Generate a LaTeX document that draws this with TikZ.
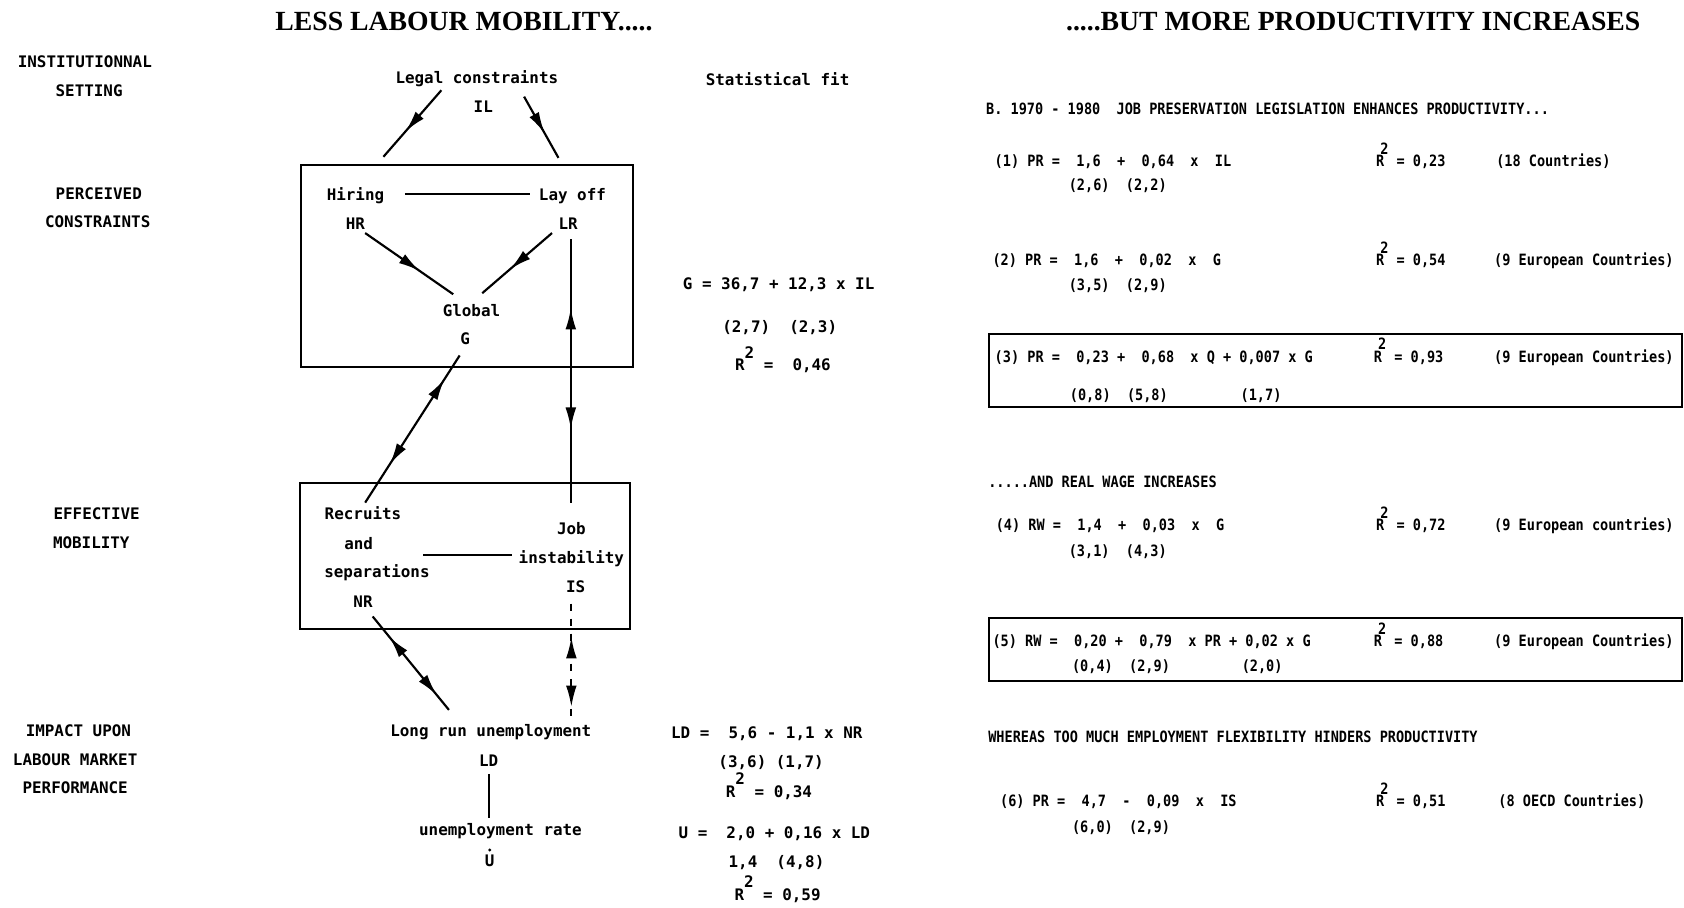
\documentclass[tikz,border=0pt]{standalone}
\usepackage{fontspec}
\setmainfont{Liberation Serif}
\newfontfamily\mono{DejaVu Sans Mono}
\newfontfamily\monoc{DejaVu Sans Mono}[FakeStretch=0.87]
\usetikzlibrary{arrows.meta,decorations.markings}
\tikzset{
  lab/.style={font=\mono\bfseries\frenchspacing\fontsize{14.8}{16}\selectfont, inner sep=0pt, text height=10.8pt, text depth=0pt},
  rp/.style={font=\monoc\bfseries\frenchspacing\fontsize{14.5}{16}\selectfont, inner sep=0pt, text height=10.6pt, text depth=0pt, anchor=west},
  ttl/.style={font=\bfseries\fontsize{25.8}{28}\selectfont, inner sep=0pt, text height=17pt, text depth=0pt},
  ln/.style={line width=2pt},
  bx/.style={line width=1.8pt},
  mytip/.tip={Latex[length=20pt,width=10pt]},
  fwdtip/.style={postaction={decorate}, decoration={markings, mark=at position #1 with {\arrow{mytip}}}},
  twotip/.style 2 args={postaction={decorate}, decoration={markings, mark=at position #1 with {\arrowreversed{mytip}}, mark=at position #2 with {\arrow{mytip}}}},
}
\newcommand{\Rsq}{R\raisebox{0.8em}{2}}
\newcommand{\Rsqr}{R\raisebox{0.8em}{\kern-0.25em2}}
\begin{document}
\begin{tikzpicture}[x=1pt,y=-1pt]
\fill[white] (0,0) rectangle (1568,845);
\useasboundingbox (0,0) rectangle (1568,845);

% titles
\node[ttl] (t1) at (432,20) {LESS LABOUR MOBILITY.....};
\node[ttl] (t2) at (1260,20) {.....BUT MORE PRODUCTIVITY INCREASES};

% left labels
\node[lab] (l1) at (79,57) {INSTITUTIONNAL};
\node[lab] (l2) at (83,84) {SETTING};
\node[lab] (l3) at (92,180) {PERCEIVED};
\node[lab] (l4) at (91,206) {CONSTRAINTS};
\node[lab] (l5) at (90,478) {EFFECTIVE};
\node[lab] (l6) at (85,505) {MOBILITY};
\node[lab] (l7) at (73,680) {IMPACT UPON};
\node[lab] (l8) at (70,707) {LABOUR MARKET};
\node[lab] (l9) at (70,733) {PERFORMANCE};

% centre diagram
\node[lab] (legal) at (444,72) {Legal constraints};
\node[lab] (il) at (450,99) {IL};
\node[lab] (sfit) at (724,74) {Statistical fit};

\draw[bx] (280,154) rectangle (589,342);
\node[lab] (hiring) at (331,181) {Hiring};
\node[lab] (layoff) at (533,181) {Lay off};
\node[lab] (hr) at (331,208) {HR};
\node[lab] (lr) at (529,208) {LR};
\node[lab] (global) at (439,289) {Global};
\node[lab] (g) at (433,315) {G};

\draw[bx] (279,450) rectangle (587,586);
\node[lab] (recruits) at (338,478) {Recruits};
\node[lab] (and) at (334,506) {and};
\node[lab] (sep) at (351,532) {separations};
\node[lab] (nr) at (338,560) {NR};
\node[lab] (job) at (532,492) {Job};
\node[lab] (instab) at (532,519) {instability};
\node[lab] (is) at (536,546) {IS};

\node[lab] (lrun) at (457,680) {Long run unemployment};
\node[lab] (ld) at (455,708) {LD};
\node[lab] (urate) at (466,773) {unemployment rate};
\node[lab] (u) at (456,801) {U};
\fill ([yshift=4pt]u.north) circle (1.5pt);

% statistical fit column
\node[lab] (eqg) at (725,264) {G = 36,7 + 12,3 x IL};
\node[lab] (eqgs) at (726,304) {(2,7)~~(2,3)};
\node[lab] (eqgr) at (729,340) {\Rsq{} =~~0,46};
\node[lab] (eqld) at (714,682) {LD =~~5,6 - 1,1 x NR};
\node[lab] (eqlds) at (718,709) {(3,6) (1,7)};
\node[lab] (eqldr) at (716,737) {\Rsq{} = 0,34};
\node[lab] (equ) at (721,775) {U =~~2,0 + 0,16 x LD};
\node[lab] (equs) at (723,802) {1,4~~(4,8)};
\node[lab] (equr) at (724,833) {\Rsq{} = 0,59};

% connector end points
\coordinate (a1s) at (411,84);  \coordinate (a1e) at (357,146);
\coordinate (a2s) at (488,90);  \coordinate (a2e) at (520,147);
\coordinate (a3s) at (340,217); \coordinate (a3e) at (422,274);
\coordinate (a4s) at (514,217); \coordinate (a4e) at (449,273);
\coordinate (a5s) at (428,331); \coordinate (a5e) at (340,468);
\coordinate (a6s) at (531.5,223); \coordinate (a6e) at (531.5,468);
\coordinate (a7s) at (347,574); \coordinate (a7e) at (418,661);
\coordinate (a8s) at (532,562); \coordinate (a8e) at (532,669);
\coordinate (sl) at (394,517);

\draw[ln,fwdtip=0.62] (a1s) -- (a1e);
\draw[ln,fwdtip=0.6] (a2s) -- (a2e);
\draw[ln,fwdtip=0.62] (a3s) -- (a3e);
\draw[ln,fwdtip=0.6] (a4s) -- (a4e);
\draw[ln,twotip={0.16}{0.74}] (a5s) -- (a5e);
\draw[ln,twotip={0.26}{0.72}] (a6s) -- (a6e);
\draw[ln,twotip={0.22}{0.84}] (a7s) -- (a7e);
\draw[ln,dash pattern=on 7pt off 7pt,twotip={0.29}{0.9}] (a8s) -- (a8e);
\draw[ln] ([xshift=19pt]hiring.east) -- ([xshift=-8pt]layoff.west);
\draw[ln] (sl) -- ([xshift=-6pt]sl -| instab.west);
\draw[ln] ([yshift=-7pt]ld.south) -- ([yshift=6pt]ld.south |- urate.north);

% right panel
\node[rp] (hd1) at (918,101) {B. 1970 - 1980~~JOB PRESERVATION LEGISLATION ENHANCES PRODUCTIVITY...};
\node[rp] (e1) at (926,150) {(1) PR =~~1,6~~+~~0,64~~x~~IL};
\node[rp] (e1s) at (995,172) {(2,6)~~(2,2)};
\node[rp] (r1) at (1281,150) {\Rsqr{} = 0,23};
\node[rp] (c1) at (1393,150) {(18 Countries)};

\node[rp] (e2) at (924,242) {(2) PR =~~1,6~~+~~0,02~~x~~G};
\node[rp] (e2s) at (995,265) {(3,5)~~(2,9)};
\node[rp] (r2) at (1281,242) {\Rsqr{} = 0,54};
\node[rp] (c2) at (1391,242) {(9 European Countries)};

\draw[bx] (921,311) rectangle (1566,379);
\node[rp] (e3) at (926,332) {(3) PR =~~0,23 +~~0,68~~x Q + 0,007 x G};
\node[rp] (e3s) at (996,368) {(0,8)~~(5,8)};
\node[rp] (e3t) at (1155,368) {(1,7)};
\node[rp] (r3) at (1279,332) {\Rsqr{} = 0,93};
\node[rp] (c3) at (1391,332) {(9 European Countries)};

\node[rp] (hd2) at (920,449) {.....AND REAL WAGE INCREASES};
\node[rp] (e4) at (927,489) {(4) RW =~~1,4~~+~~0,03~~x~~G};
\node[rp] (e4s) at (995,513) {(3,1)~~(4,3)};
\node[rp] (r4) at (1281,489) {\Rsqr{} = 0,72};
\node[rp] (c4) at (1391,489) {(9 European countries)};

\draw[bx] (921,575) rectangle (1566,634);
\node[rp] (e5) at (924,597) {(5) RW =~~0,20 +~~0,79~~x PR + 0,02 x G};
\node[rp] (e5s) at (998,620) {(0,4)~~(2,9)};
\node[rp] (e5t) at (1156,620) {(2,0)};
\node[rp] (r5) at (1279,597) {\Rsqr{} = 0,88};
\node[rp] (c5) at (1391,597) {(9 European Countries)};

\node[rp] (hd3) at (920,686) {WHEREAS TOO MUCH EMPLOYMENT FLEXIBILITY HINDERS PRODUCTIVITY};
\node[rp] (e6) at (931,746) {(6) PR =~~4,7~~-~~0,09~~x~~IS};
\node[rp] (e6s) at (998,770) {(6,0)~~(2,9)};
\node[rp] (r6) at (1281,746) {\Rsqr{} = 0,51};
\node[rp] (c6) at (1395,746) {(8 OECD Countries)};
\end{tikzpicture}
\end{document}
